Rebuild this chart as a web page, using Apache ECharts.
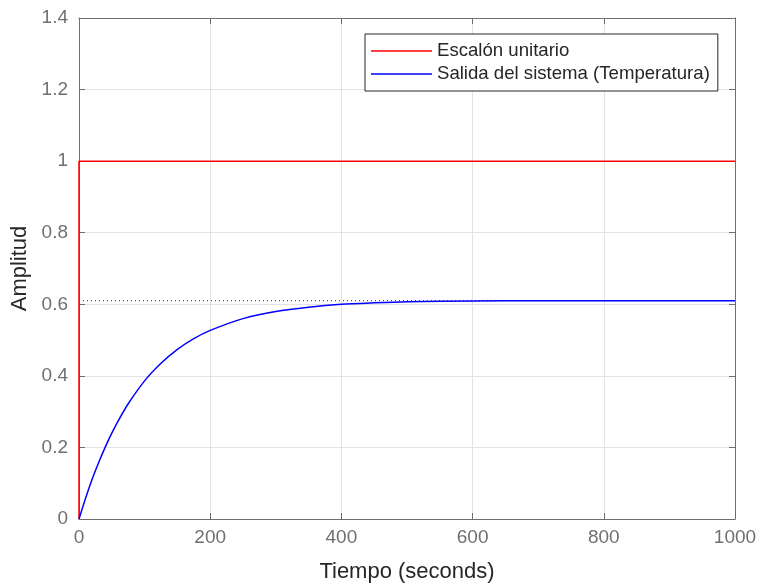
<!DOCTYPE html>
<html>
<head>
<meta charset="utf-8">
<script src="https://cdn.jsdelivr.net/npm/echarts@6/dist/echarts.min.js"></script>
<style>
  html, body { margin: 0; padding: 0; background: #fff; }
  #chart { width: 764px; height: 583px; }
</style>
</head>
<body>
<div id="chart"></div>
<script>
// tiempo (s) y salida
var tiempo = [0, 10, 20, 30, 40, 50, 60, 75, 100, 125, 150, 175, 200, 250, 300, 350, 400, 450, 500, 600, 700, 800, 1000];
var salida = [0, 0.058, 0.111, 0.158, 0.201, 0.240, 0.275, 0.322, 0.386, 0.435, 0.474, 0.504, 0.527, 0.560, 0.580, 0.592, 0.600, 0.604, 0.607, 0.609, 0.610, 0.610, 0.610];
var escalonT = [0, 0, 1000];
var escalonV = [0, 1, 1];
var valorFinal = 0.61;
var xTicks = [0, 1000, 200];
var yTicks = [0, 1.4, 0.2];

function pares(xs, ys) {
	var out = [];
	for (var i = 0; i < xs.length; i++) out.push([xs[i], ys[i]]);
	return out;
}

var fuente = 'Liberation Sans, Arial, Helvetica, sans-serif';
var ejeColor = '#6e6e6e';

var dom = document.getElementById('chart');
var myChart = echarts.init(dom);

var option = {
	animation: false,
	grid: {
		left: 79,
		right: 29,
		top: 18,
		bottom: 64,
		show: false,
		outerBoundsMode: 'none',
		containLabel: false
	},
	legend: {
		orient: 'vertical',
		left: 365,
		top: 34,
		padding: [6, 8, 6, 6],
		itemWidth: 61,
		itemHeight: 1.5,
		itemGap: 1,
		icon: 'rect',
		borderColor: '#262626',
		borderWidth: 1,
		backgroundColor: '#fff',
		textStyle: { fontFamily: fuente, fontSize: 18.6, color: '#262626', lineHeight: 22 },
		data: ['Escalón unitario', 'Salida del sistema (Temperatura)']
	},
	xAxis: [
		{
			type: 'value',
			min: xTicks[0], max: xTicks[1], interval: xTicks[2],
			name: 'Tiempo (seconds)',
			nameLocation: 'middle',
			nameGap: 42,
			nameTextStyle: { fontFamily: fuente, fontSize: 22, color: '#262626' },
			axisLine: { show: true, onZero: false, lineStyle: { color: ejeColor, width: 1 } },
			axisTick: { show: true, inside: true, length: 6, lineStyle: { color: ejeColor } },
			axisLabel: {
				fontFamily: fuente, fontSize: 19, color: '#707070', margin: 9,
				formatter: function (v) { return String(v); }
			},
			splitLine: { show: true, lineStyle: { color: '#e3e3e3', width: 1 } }
		},
		{
			type: 'value',
			position: 'top',
			min: xTicks[0], max: xTicks[1], interval: xTicks[2],
			axisLine: { show: true, onZero: false, lineStyle: { color: ejeColor, width: 1 } },
			axisTick: { show: true, inside: true, length: 6, lineStyle: { color: ejeColor } },
			axisLabel: { show: false },
			splitLine: { show: false }
		}
	],
	yAxis: [
		{
			type: 'value',
			min: yTicks[0], max: yTicks[1], interval: yTicks[2],
			name: 'Amplitud',
			nameLocation: 'middle',
			nameGap: 44,
			nameTextStyle: { fontFamily: fuente, fontSize: 22, color: '#262626' },
			axisLine: { show: true, onZero: false, lineStyle: { color: ejeColor, width: 1 } },
			axisTick: { show: true, inside: true, length: 6, lineStyle: { color: ejeColor } },
			axisLabel: { fontFamily: fuente, fontSize: 19, color: '#707070', margin: 11 },
			splitLine: { show: true, lineStyle: { color: '#e3e3e3', width: 1 } }
		},
		{
			type: 'value',
			position: 'right',
			min: yTicks[0], max: yTicks[1], interval: yTicks[2],
			axisLine: { show: true, onZero: false, lineStyle: { color: ejeColor, width: 1 } },
			axisTick: { show: true, inside: true, length: 6, lineStyle: { color: ejeColor } },
			axisLabel: { show: false },
			splitLine: { show: false }
		}
	],
	series: [
		{
			name: 'Valor final',
			type: 'line',
			data: [[xTicks[0], valorFinal], [xTicks[1], valorFinal]],
			symbol: 'none',
			silent: true,
			lineStyle: { color: '#333', width: 1, type: [1, 3] },
			z: 1
		},
		{
			name: 'Escalón unitario',
			type: 'line',
			data: pares(escalonT, escalonV),
			symbol: 'none',
			color: '#ff0000',
			lineStyle: { color: '#ff0000', width: 1.5 },
			z: 2
		},
		{
			name: 'Salida del sistema (Temperatura)',
			type: 'line',
			data: pares(tiempo, salida),
			symbol: 'none',
			smooth: 0.25,
			color: '#0000ff',
			lineStyle: { color: '#0000ff', width: 1.5 },
			z: 3
		}
	]
};

myChart.setOption(option);
</script>
</body>
</html>
